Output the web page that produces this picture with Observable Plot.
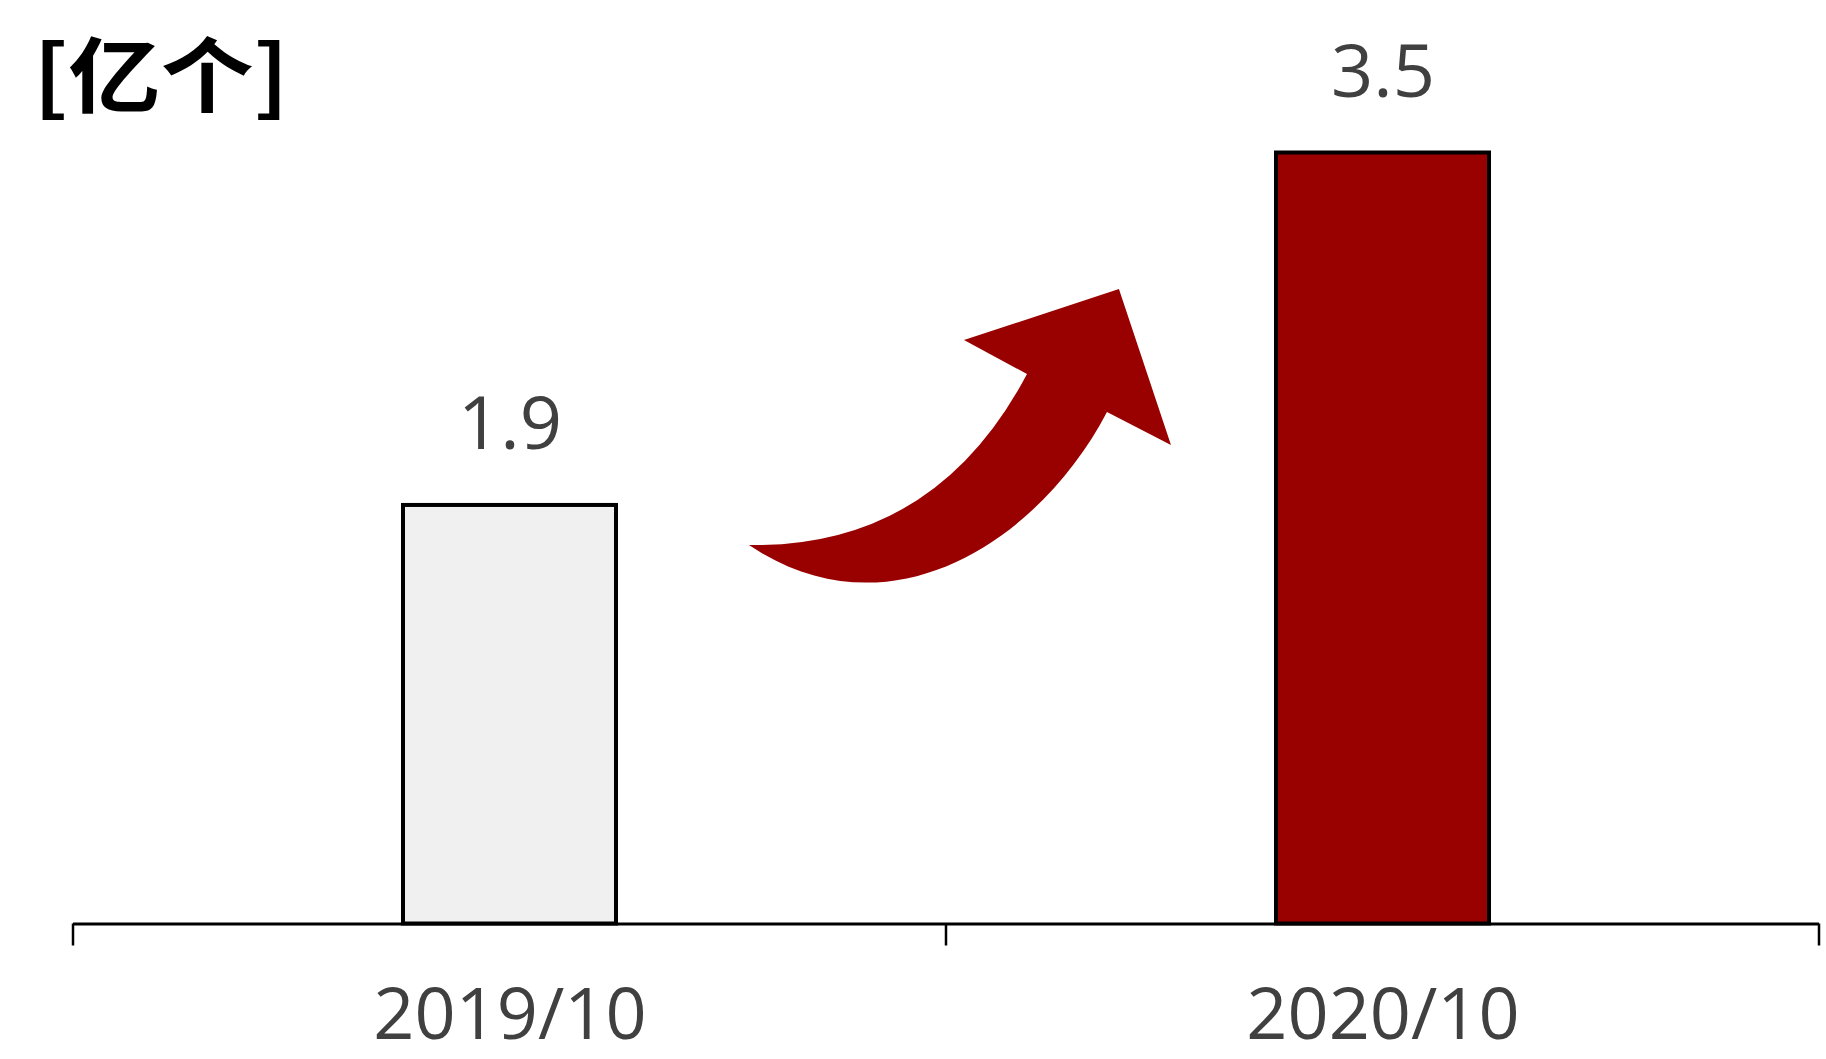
<!DOCTYPE html>
<html>
<head>
<meta charset="utf-8">
<script src="https://cdn.jsdelivr.net/npm/d3@7"></script>
<script src="https://cdn.jsdelivr.net/npm/@observablehq/plot@0.6"></script>
<style>
  html, body { margin: 0; padding: 0; background: #ffffff; }
  #chart { width: 1826px; height: 1059px; }
</style>
</head>
<body>
<div id="chart"></div>
<script>
// ---- data ----
const categories = ["2019/10", "2020/10"];
const values = [1.9, 3.5];
const barColors = ["#f0f0f0", "#990000"];
const unitLabel = "[亿个]";
const arrowColor = "#990000";

const data = categories.map((c, i) => ({ date: c, value: values[i], color: barColors[i] }));

const plot = Plot.plot({
  width: 1826,
  height: 1059,
  marginLeft: 73,
  marginRight: 7,
  marginTop: 152.5,
  marginBottom: 135.5,
  x: { domain: categories, padding: 0 },
  y: { domain: [0, 3.5], axis: null },
  style: { background: "#ffffff", fontFamily: "'Open Sans', sans-serif" },
  marks: [
    Plot.barY(data, {
      x: "date", y: "value", fill: "color",
      stroke: "#000000", strokeWidth: 4,
      insetLeft: 330, insetRight: 330
    }),
    Plot.ruleY([0], { stroke: "#000000", strokeWidth: 3 }),
    Plot.text(data, {
      x: "date", y: "value", text: d => d.value.toFixed(1),
      dy: -80, fontSize: 74, fill: "#404040"
    }),
    Plot.axisX({ tickSize: 0, tickPadding: 64, fontSize: 72, fill: "#404040", label: null })
  ]
});

document.getElementById("chart").appendChild(plot);

// ---- annotations drawn from the plot's own scales ----
const svg = d3.select(plot);
const xs = plot.scale("x");
const ys = plot.scale("y");
const y0 = ys.apply(0);

// category boundary ticks
const bounds = categories.map(c => xs.apply(c));
bounds.push(xs.apply(categories[categories.length - 1]) + xs.step);
svg.append("g").selectAll("line").data(bounds).join("line")
  .attr("x1", d => d).attr("x2", d => d)
  .attr("y1", y0).attr("y2", y0 + 22)
  .attr("stroke", "#000000").attr("stroke-width", 2.5);

// unit label
svg.append("text")
  .attr("transform", "translate(33.3,106.4) scale(1.13,1)")
  .attr("text-anchor", "start")
  .attr("font-family", "'Noto Sans CJK SC', sans-serif")
  .attr("font-size", 82)
  .attr("font-weight", 700)
  .attr("fill", "#000000")
  .text(unitLabel);

// curved growth arrow, placed between the two bar centres (t) at value heights (v)
const c1 = xs.apply(categories[0]) + xs.bandwidth / 2;
const c2 = xs.apply(categories[1]) + xs.bandwidth / 2;
const P = (t, v) => [c1 + t * (c2 - c1), ys.apply(v)];
const T = P(0.2743, 1.718), C = P(0.4874, 1.7046), N1 = P(0.5928, 2.4944),
      L = P(0.5206, 2.6488), H = P(0.6981, 2.8803), R = P(0.7577, 2.1721),
      N2 = P(0.6844, 2.3220), k1 = P(0.6077, 1.7409), k2 = P(0.4359, 1.287);
const path = `M${T}Q${C} ${N1}L${L}L${H}L${R}L${N2}C${k1} ${k2} ${T}Z`;
svg.append("path").attr("d", path).attr("fill", arrowColor);
</script>
</body>
</html>
